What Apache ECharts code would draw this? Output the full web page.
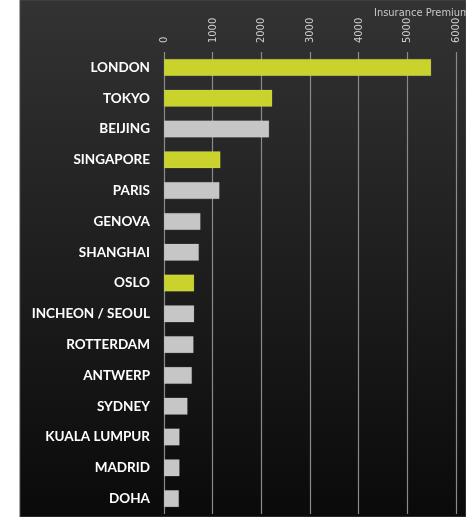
<!DOCTYPE html>
<html>
<head>
<meta charset="utf-8">
<script src="https://cdn.jsdelivr.net/npm/echarts@6/dist/echarts.min.js"></script>
<style>
  html, body { margin: 0; padding: 0; background: #fff; }
  #chart { width: 466px; height: 517px; }
</style>
</head>
<body>
<div id="chart"></div>
<script>
// Ports ranked by insurance premiums
const cities = [
  'LONDON', 'TOKYO', 'BEIJING', 'SINGAPORE', 'PARIS', 'GENOVA', 'SHANGHAI',
  'OSLO', 'INCHEON / SEOUL', 'ROTTERDAM', 'ANTWERP', 'SYDNEY',
  'KUALA LUMPUR', 'MADRID', 'DOHA'
];
const premiums = [
  5490, 2225, 2160, 1160, 1140, 750, 717,
  620, 620, 607, 574, 484,
  320, 320, 307
];
// Highlighted ports are drawn in green, the rest in grey
const highlighted = [
  true, true, false, true, false, false, false,
  true, false, false, false, false,
  false, false, false
];
const axisTicks = [0, 1000, 2000, 3000, 4000, 5000, 6000];
const axisTitle = 'Insurance Premiums';

const GREEN = '#c9d32c';
const GREY = '#c6c6c6';
const NARROW = '"DejaVu Sans Condensed", "Liberation Sans Narrow", sans-serif';

const chart = echarts.init(document.getElementById('chart'), null, { renderer: 'canvas' });

chart.setOption({
  backgroundColor: '#ffffff',
  animation: false,
  graphic: [{
    type: 'rect',
    z: -10,
    shape: { x: 20, y: 0, width: 446, height: 517 },
    style: {
      fill: new echarts.graphic.LinearGradient(0, 0, 0, 1, [
        { offset: 0, color: '#333333' },
        { offset: 1, color: '#0a0a0a' }
      ]),
      stroke: '#4a4a4a',
      lineWidth: 1
    }
  }],
  title: {
    text: axisTitle,
    left: 369,
    top: 3,
    textStyle: {
      fontFamily: NARROW,
      fontWeight: 'normal',
      fontSize: 11,
      color: '#c8c8c8'
    }
  },
  grid: {
    left: 164,
    right: 10,
    top: 52,
    bottom: 3,
    containLabel: false
  },
  xAxis: {
    type: 'value',
    position: 'top',
    min: axisTicks[0],
    max: axisTicks[axisTicks.length - 1],
    interval: axisTicks[1] - axisTicks[0],
    axisLine: { show: false },
    axisTick: { show: false },
    axisLabel: {
      rotate: -90,
      margin: 9,
      color: '#cccccc',
      fontFamily: NARROW,
      fontSize: 11,
      formatter: (v) => String(v)
    },
    splitLine: {
      show: true,
      lineStyle: { color: '#8a8a8a', width: 1.2 }
    }
  },
  yAxis: {
    type: 'category',
    inverse: true,
    data: cities,
    axisLine: { show: false },
    axisTick: { show: false },
    axisLabel: {
      margin: 14,
      color: '#ffffff',
      fontFamily: 'Lato',
      fontWeight: 'bold',
      fontSize: 13.5
    }
  },
  series: [{
    type: 'bar',
    barWidth: 17,
    data: premiums.map((v, i) => ({
      value: v,
      itemStyle: {
        color: highlighted[i] ? GREEN : GREY,
        borderColor: 'rgba(255,255,255,0.25)',
        borderWidth: 0.5
      }
    }))
  }]
});
</script>
</body>
</html>
